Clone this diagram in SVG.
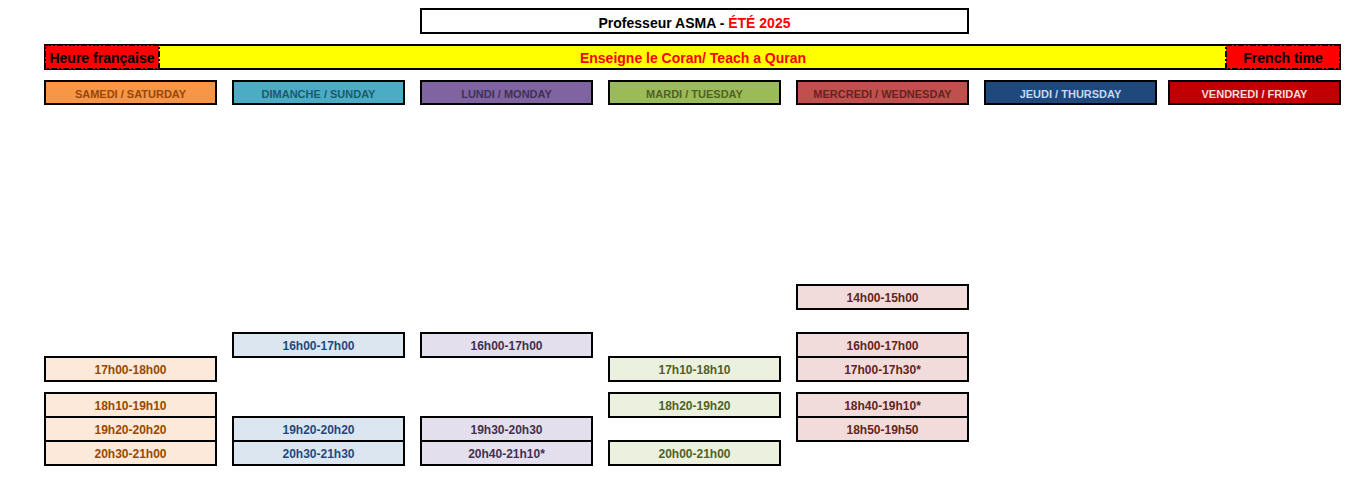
<svg xmlns="http://www.w3.org/2000/svg" width="1361" height="480" viewBox="0 0 1361 480">
<style>
text{font-family:"Liberation Sans",Arial,sans-serif;font-weight:bold;text-anchor:middle}
.b{stroke:#000;stroke-width:2}
.dash{stroke:#000;stroke-width:2;stroke-dasharray:6 2 2 2}
.h{font-size:11px}
.s{font-size:12px}
.sat{fill:#FDE9D9}.satt{fill:#974706}
.sun{fill:#DCE6F1}.sunt{fill:#1F497D}
.mon{fill:#E4DFEC}.mont{fill:#403151}
.tue{fill:#EBF1DE}.tuet{fill:#4F6228}
.wed{fill:#F2DCDB}.wedt{fill:#632523}
</style>
<rect width="1361" height="480" fill="#fff"/>
<g id="title">
<rect class="b" x="421" y="9" width="547" height="24" fill="#fff"/>
<text x="694.5" y="27.5" font-size="14" fill="#000">Professeur ASMA - <tspan fill="#FF0000">ÉTÉ 2025</tspan></text>
</g>
<g id="banner">
<rect class="b" x="45" y="45" width="1295" height="24" fill="#FFFF00"/>
<text x="693" y="62.5" font-size="14" fill="#FF0000">Enseigne le Coran/ Teach a Quran</text>
</g>
<g id="heure">
<rect class="dash" x="45" y="45" width="114" height="24" fill="#FF0000"/>
<text x="102" y="63" font-size="14" fill="#000">Heure française</text>
</g>
<g id="french">
<rect class="dash" x="1226" y="45" width="114" height="24" fill="#FF0000"/>
<text x="1283" y="63" font-size="14" fill="#000">French time</text>
</g>
<g id="day-sat"><rect class="b" x="45" y="81" width="171" height="23" fill="#F79646"/><text class="h" x="130.5" y="98" fill="#974706">SAMEDI / SATURDAY</text></g>
<g id="day-sun"><rect class="b" x="233" y="81" width="171" height="23" fill="#4BACC6"/><text class="h" x="318.5" y="98" fill="#215968">DIMANCHE / SUNDAY</text></g>
<g id="day-mon"><rect class="b" x="421" y="81" width="171" height="23" fill="#8064A2"/><text class="h" x="506.5" y="98" fill="#403151">LUNDI / MONDAY</text></g>
<g id="day-tue"><rect class="b" x="609" y="81" width="171" height="23" fill="#9BBB59"/><text class="h" x="694.5" y="98" fill="#4F6228">MARDI / TUESDAY</text></g>
<g id="day-wed"><rect class="b" x="797" y="81" width="171" height="23" fill="#C0504D"/><text class="h" x="882.5" y="98" fill="#632523">MERCREDI / WEDNESDAY</text></g>
<g id="day-thu"><rect class="b" x="985" y="81" width="171" height="23" fill="#1F497D"/><text class="h" x="1070.5" y="98" fill="#C5D9F1">JEUDI / THURSDAY</text></g>
<g id="day-fri"><rect class="b" x="1169" y="81" width="171" height="23" fill="#C00000"/><text class="h" x="1254.5" y="98" fill="#F2DCDB">VENDREDI / FRIDAY</text></g>

<g id="sat-1"><rect class="b sat" x="45" y="357" width="171" height="24"/><text class="s satt" x="130.5" y="373.5">17h00-18h00</text></g>
<g id="sat-2"><rect class="b sat" x="45" y="393" width="171" height="24"/><text class="s satt" x="130.5" y="409.5">18h10-19h10</text></g>
<g id="sat-3"><rect class="b sat" x="45" y="417" width="171" height="24"/><text class="s satt" x="130.5" y="433.5">19h20-20h20</text></g>
<g id="sat-4"><rect class="b sat" x="45" y="441" width="171" height="24"/><text class="s satt" x="130.5" y="457.5">20h30-21h00</text></g>

<g id="sun-1"><rect class="b sun" x="233" y="333" width="171" height="24"/><text class="s sunt" x="318.5" y="349.5">16h00-17h00</text></g>
<g id="sun-2"><rect class="b sun" x="233" y="417" width="171" height="24"/><text class="s sunt" x="318.5" y="433.5">19h20-20h20</text></g>
<g id="sun-3"><rect class="b sun" x="233" y="441" width="171" height="24"/><text class="s sunt" x="318.5" y="457.5">20h30-21h30</text></g>

<g id="mon-1"><rect class="b mon" x="421" y="333" width="171" height="24"/><text class="s mont" x="506.5" y="349.5">16h00-17h00</text></g>
<g id="mon-2"><rect class="b mon" x="421" y="417" width="171" height="24"/><text class="s mont" x="506.5" y="433.5">19h30-20h30</text></g>
<g id="mon-3"><rect class="b mon" x="421" y="441" width="171" height="24"/><text class="s mont" x="506.5" y="457.5">20h40-21h10*</text></g>

<g id="tue-1"><rect class="b tue" x="609" y="357" width="171" height="24"/><text class="s tuet" x="694.5" y="373.5">17h10-18h10</text></g>
<g id="tue-2"><rect class="b tue" x="609" y="393" width="171" height="24"/><text class="s tuet" x="694.5" y="409.5">18h20-19h20</text></g>
<g id="tue-3"><rect class="b tue" x="609" y="441" width="171" height="24"/><text class="s tuet" x="694.5" y="457.5">20h00-21h00</text></g>

<g id="wed-1"><rect class="b wed" x="797" y="285" width="171" height="24"/><text class="s wedt" x="882.5" y="301.5">14h00-15h00</text></g>
<g id="wed-2"><rect class="b wed" x="797" y="333" width="171" height="24"/><text class="s wedt" x="882.5" y="349.5">16h00-17h00</text></g>
<g id="wed-3"><rect class="b wed" x="797" y="357" width="171" height="24"/><text class="s wedt" x="882.5" y="373.5">17h00-17h30*</text></g>
<g id="wed-4"><rect class="b wed" x="797" y="393" width="171" height="24"/><text class="s wedt" x="882.5" y="409.5">18h40-19h10*</text></g>
<g id="wed-5"><rect class="b wed" x="797" y="417" width="171" height="24"/><text class="s wedt" x="882.5" y="433.5">18h50-19h50</text></g>
</svg>
